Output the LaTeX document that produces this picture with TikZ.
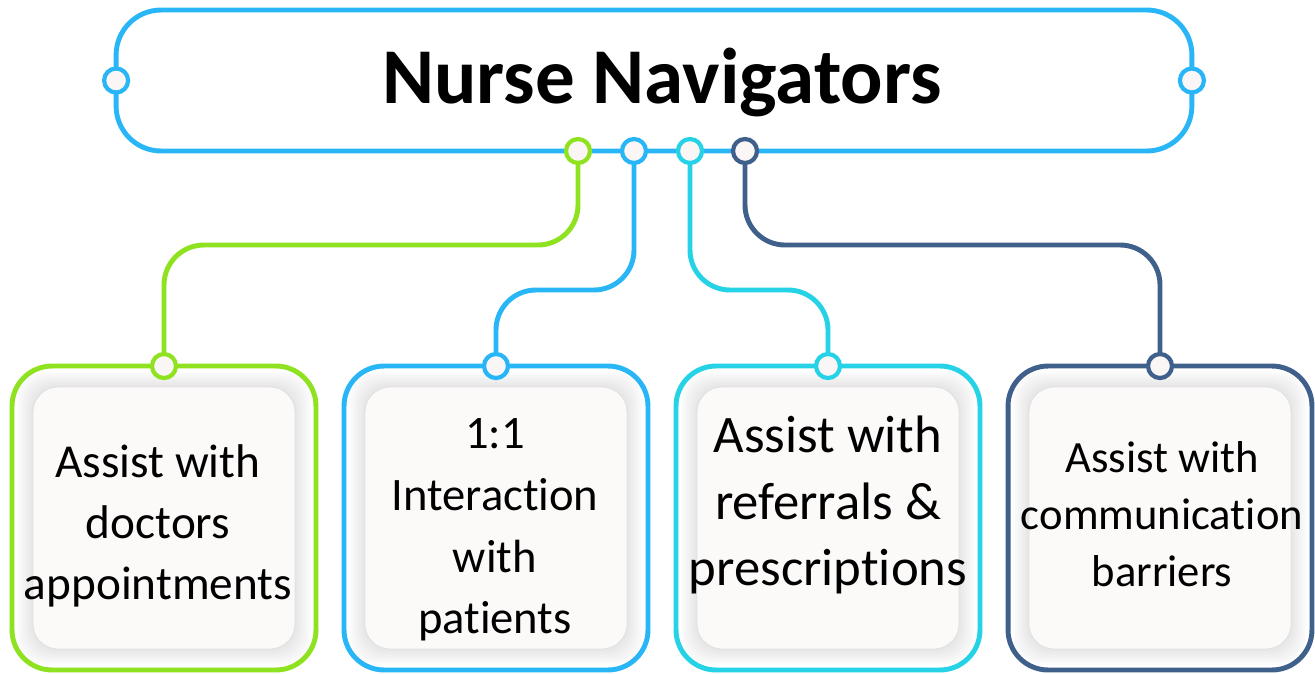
\documentclass[tikz,border=0pt]{standalone}
\usepackage{fontspec}
\setmainfont{Carlito}[Ligatures=NoCommon]
\usetikzlibrary{positioning}
\definecolor{navlime}{HTML}{8FE21F}
\definecolor{navblue}{HTML}{29B6F6}
\definecolor{navcyan}{HTML}{26D3E6}
\definecolor{navnavy}{HTML}{40608C}
\definecolor{dotfill}{HTML}{FAF6F6}
\definecolor{cardfill}{HTML}{FCF9F9}

\begin{document}
\begin{tikzpicture}[x=0.02cm,y=-0.02cm,
  every node/.style={inner sep=0pt,outer sep=0pt},
  link/.style={line width=2.8pt,rounded corners=0.8cm},
  dot/.style={draw=#1,circle,fill=dotfill,line width=2.4pt,minimum size=0.48cm},
  card/.style={draw=#1,line width=2.8pt,rounded corners=0.8cm,fill=white,minimum width=6.08cm,minimum height=6.08cm},
  inner/.style={draw=black!12,line width=0.4pt,fill=cardfill,rounded corners=0.5cm,minimum width=5.24cm,minimum height=5.24cm}]
  \useasboundingbox (0,0) rectangle (1315,673);

  % head box
  \node[draw=navblue,line width=2.8pt,rounded corners=0.9cm,minimum width=21.52cm,minimum height=2.82cm] (head) at (654,80.5) {};
  \node[font=\fontsize{45}{54}\selectfont\bfseries,anchor=base] (title) at (662,103) {Nurse Navigators};
  \node[dot=navblue] (hl) at (head.west) {};
  \node[dot=navblue] (hr) at (head.east) {};

  % cards
  \foreach \n/\cx/\col in {1/164/navlime,2/496/navblue,3/828/navcyan,4/1160/navnavy}{
    \node[card=\col] (c\n) at (\cx,518) {};
    \foreach \s in {16,14,...,2}
      \fill[black,opacity=0.011,rounded corners=0.5cm] ([shift={(21-\s,21-\s)}]c\n.north west) rectangle ([shift={(\s-21,\s-21)}]c\n.south east);
    \node[inner] (in\n) at (c\n) {};
    \node[dot=\col] (b\n) at (c\n.north) {};
  }

  \node[dot=navlime] (t1) at (578,151) {};
  \node[dot=navblue] (t2) at (634,151) {};
  \node[dot=navcyan] (t3) at (690,151) {};
  \node[dot=navnavy] (t4) at (745,151) {};

  \draw[link,navlime](t1.south)--++(0,82)-|(b1.north);
  \draw[link,navblue](t2.south)--++(0,127)-|(b2.north);
  \draw[link,navcyan](t3.south)--++(0,127)-|(b3.north);
  \draw[link,navnavy](t4.south)--++(0,82)-|(b4.north);

  % card texts
  \node[font=\fontsize{26.9}{34.6}\selectfont,align=center] (txt1) at (158,526) {Assist with\\doctors\\appointments};
  \node[font=\fontsize{26.5}{35.1}\selectfont,align=center] (txt2) at (495,530) {1:1\\Interaction\\with\\patients};
  \node[font=\fontsize{30}{38}\selectfont,align=center] (txt3) at (828,505) {Assist with\\referrals \&\\prescriptions};
  \node[font=\fontsize{25.4}{32.3}\selectfont,align=center] (txt4) at (1162,514) {Assist with\\communication\\barriers};
\end{tikzpicture}
\end{document}
